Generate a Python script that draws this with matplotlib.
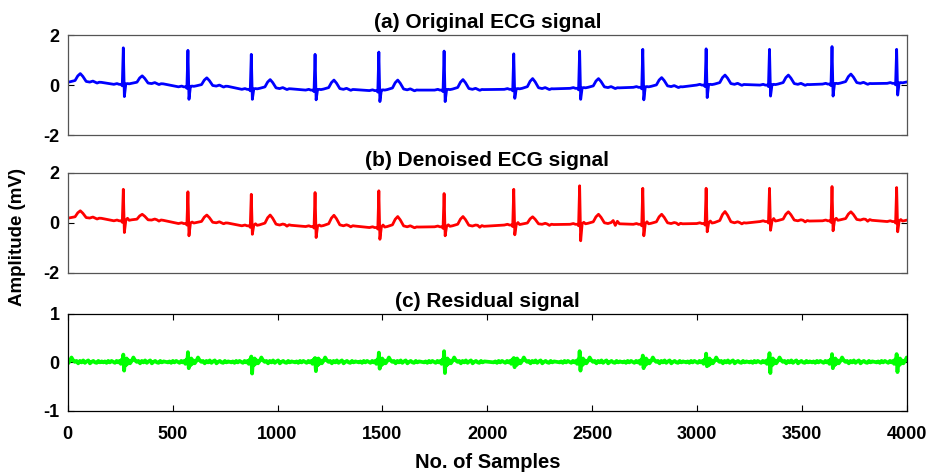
import numpy as np
import matplotlib.pyplot as plt

plt.rcParams["font.family"] = ["Liberation Sans", "DejaVu Sans"]
plt.rcParams["font.weight"] = "bold"
plt.rcParams["axes.unicode_minus"] = False

# R-peak positions (samples), first one is a beat just before the record starts
r_pos = [-30, 265, 573, 875, 1179, 1483, 1794, 2126, 2440, 2741, 3043, 3345, 3643, 3951]

# (a) original ECG, read per beat
orig_base = [0.09, 0.03, -0.07, -0.17, -0.20, -0.22, -0.20, -0.17, -0.13, -0.09, 0.00, 0.00, 0.04, 0.07]
orig_r = [1.30, 1.49, 1.39, 1.23, 1.23, 1.32, 1.36, 1.25, 1.36, 1.43, 1.45, 1.43, 1.54, 1.43]
orig_s = [-0.50, -0.46, -0.57, -0.57, -0.59, -0.66, -0.66, -0.53, -0.57, -0.59, -0.50, -0.44, -0.44, -0.40]
orig_t = [0.46, 0.37, 0.29, 0.22, 0.20, 0.20, 0.22, 0.26, 0.26, 0.30, 0.40, 0.40, 0.44, 0.40]
orig_notch = [0.03] * 14
orig_art = [0.03] * 14

# (b) denoised ECG
den_base = [0.15, 0.07, -0.04, -0.13, -0.16, -0.20, -0.17, -0.10, -0.07, -0.07, -0.04, 0.04, 0.07, 0.04]
den_r = [1.30, 1.33, 1.23, 1.13, 1.20, 1.27, 1.16, 1.33, 1.47, 1.37, 1.37, 1.37, 1.44, 1.40]
den_s = [-0.40, -0.40, -0.53, -0.47, -0.60, -0.67, -0.53, -0.49, -0.73, -0.53, -0.37, -0.31, -0.33, -0.37]
den_t = [0.47, 0.33, 0.30, 0.30, 0.29, 0.24, 0.24, 0.23, 0.33, 0.33, 0.44, 0.43, 0.43, 0.40]
den_notch = [0.08, 0.10, 0.06, 0.08, 0.06, 0.10, 0.08, 0.10, 0.08, 0.10, 0.10, 0.12, 0.10, 0.08]
den_art = [0.03, 0.04, 0.03, 0.05, 0.04, 0.03, 0.06, 0.04, 0.15, 0.05, 0.04, 0.05, 0.06, 0.04]

# (c) residual spikes around each R peak
res_up = [0.10, 0.16, 0.21, 0.12, 0.09, 0.20, 0.23, 0.09, 0.23, 0.14, 0.18, 0.19, 0.17, 0.17]
res_down = [-0.10, -0.17, -0.12, -0.23, -0.18, -0.13, -0.22, -0.10, -0.17, -0.12, -0.08, -0.22, -0.12, -0.20]

# beat shape: offsets from R peak
ecg_off = [-45, -30, -20, -10, -5, 0, 5, 12, 20, 28, 40, 65, 78, 90, 102, 118, 135, 150, 160, 170, 180, 190]
res_off = [-95, -88, -80, -72, -64, -56, -48, -40, -32, -24, -18, -12, -7, -3, 0, 4, 8, 12, 16, 20, 26,
           32, 40, 48, 56, 64, 72, 80, 88, 96, 104, 112, 120, 128, 136, 144, 152, 160, 168, 176, 184, 192]
res_wig = [0.0, 0.02, -0.01, 0.03, 0.0, 0.03, 0.01, -0.01, 0.03, 0.0, 0.03, -0.03, 0.06, -0.02, None, None,
           0.07, -0.06, 0.08, -0.03, 0.04, -0.02, 0.03, 0.10, 0.04, 0.01, 0.03, -0.02, 0.03, 0.0, 0.04,
           -0.01, 0.02, 0.04, -0.02, 0.01, 0.03, 0.0, -0.01, 0.03, 0.0, 0.02]


def ecg_trace(base, rr, ss, tt, notch, art):
    xs, ys = [], []
    for r, b, R, S, T, n, a in zip(r_pos, base, rr, ss, tt, notch, art):
        t = T - b
        rel = [0, 0.03, 0.0, 0.0, -0.06, R - b, S - b, 0.02, n, 0.02, 0.04,
               0.25 * t, 0.75 * t, t, 0.7 * t, 0.15 * t, 0.03, 0.07, a, -0.3 * a, 0.8 * a, 0.02]
        xs += [r + o for o in ecg_off]
        ys += [b + v for v in rel]
    return xs, ys


def res_trace():
    xs, ys = [], []
    for r, up, dn in zip(r_pos, res_up, res_down):
        vals = list(res_wig)
        vals[14] = up
        vals[15] = dn
        xs += [r + o for o in res_off]
        ys += vals
    return xs, ys


fig = plt.figure(figsize=(9.34, 4.74), dpi=100)
left, width = 0.0725, 0.8985
ax1 = fig.add_axes([left, 0.715, width, 0.211])
ax2 = fig.add_axes([left, 0.425, width, 0.211])
ax3 = fig.add_axes([left, 0.133, width, 0.205])

x, y = ecg_trace(orig_base, orig_r, orig_s, orig_t, orig_notch, orig_art)
ax1.plot(x, y, color="#0000ff", lw=2)
x, y = ecg_trace(den_base, den_r, den_s, den_t, den_notch, den_art)
ax2.plot(x, y, color="#ff0000", lw=2)
x, y = res_trace()
ax3.plot(x, y, color="#00ff00", lw=2.7)

titles = ["(a) Original ECG signal", "(b) Denoised ECG signal", "(c) Residual signal"]
for ax, title in zip([ax1, ax2, ax3], titles):
    ax.set_xlim(0, 4000)
    ax.set_title(title, fontsize=15, fontweight="bold", pad=5)
    ax.tick_params(direction="in", length=4, labelsize=13, top=True, right=True, width=0.8, pad=6)
    for sp in ax.spines.values():
        sp.set_linewidth(0.9)

for ax in [ax1, ax2]:
    ax.set_ylim(-2, 2)
    ax.set_yticks([-2, 0, 2])
    ax.set_xticks([])
    for sp in ax.spines.values():
        sp.set_color("#555555")

ax3.set_ylim(-1, 1)
ax3.set_yticks([-1, 0, 1])
ax3.set_xticks(np.arange(0, 4001, 500))
ax3.tick_params(axis="x", pad=11)
ax3.set_xlabel("No. of Samples", fontsize=14.5, fontweight="bold", labelpad=7)

for ax in [ax1, ax2, ax3]:
    for lab in ax.get_yticklabels() + ax.get_xticklabels():
        lab.set_fontweight("bold")

fig.text(0.019, 0.5, "Amplitude (mV)", rotation=90, va="center", ha="center",
         fontsize=13.5, fontweight="bold")

fig.savefig("out.png", dpi=100)
